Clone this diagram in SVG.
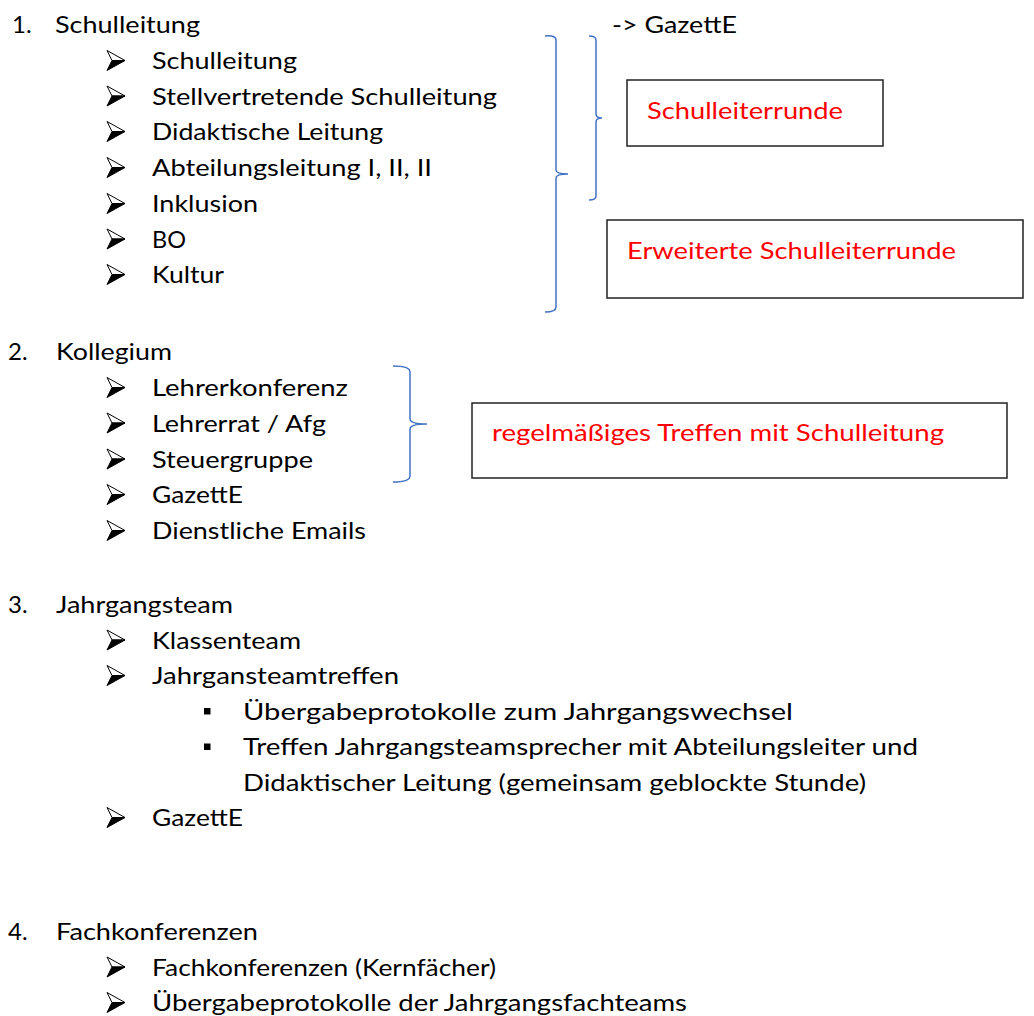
<svg xmlns="http://www.w3.org/2000/svg" width="1034" height="1016" viewBox="0 0 1034 1016">
<style>
  .t { font-family: Lato, "Open Sans", "Liberation Sans", sans-serif; font-size: 24px; fill: #000; }
  .r { font-family: Lato, "Open Sans", "Liberation Sans", sans-serif; font-size: 24px; fill: #FF0000; }
  .box { fill: #fff; stroke: #222; stroke-width: 1.5; }
  .brace { fill: none; stroke: #4472C4; stroke-width: 1.5; }
</style>
<defs>
  <g id="arr">
    <polygon points="0,-10 18,0 5,0" fill="#fff" stroke="#000" stroke-width="1"/>
    <polygon points="5,0 18,0 0,10" fill="#000" stroke="#000" stroke-width="1"/>
  </g>
  <rect id="sq" x="0" y="0" width="6.5" height="6.5" fill="#000"/>
</defs>
<rect width="1034" height="1016" fill="#fff"/>

<g id="section1">
  <text class="t" x="12" y="33">1.</text>
  <text class="t" x="55" y="33" textLength="145" lengthAdjust="spacingAndGlyphs">Schulleitung</text>
  <use href="#arr" x="107" y="60.5"/><text class="t" x="152" y="69" textLength="145" lengthAdjust="spacingAndGlyphs">Schulleitung</text>
  <use href="#arr" x="107" y="96"/><text class="t" x="152" y="104.5" textLength="345" lengthAdjust="spacingAndGlyphs">Stellvertretende Schulleitung</text>
  <use href="#arr" x="107" y="131.5"/><text class="t" x="152" y="140" textLength="231" lengthAdjust="spacingAndGlyphs">Didaktische Leitung</text>
  <use href="#arr" x="107" y="167.5"/><text class="t" x="152" y="176" textLength="280" lengthAdjust="spacingAndGlyphs">Abteilungsleitung I, II, II</text>
  <use href="#arr" x="107" y="203.5"/><text class="t" x="152" y="212" textLength="106" lengthAdjust="spacingAndGlyphs">Inklusion</text>
  <use href="#arr" x="107" y="239"/><text class="t" x="152" y="247.5" textLength="34" lengthAdjust="spacingAndGlyphs">BO</text>
  <use href="#arr" x="107" y="274.5"/><text class="t" x="152" y="283" textLength="72" lengthAdjust="spacingAndGlyphs">Kultur</text>
</g>

<g id="gazette-note">
  <text class="t" x="612" y="33" textLength="125" lengthAdjust="spacingAndGlyphs">-&gt; GazettE</text>
</g>

<g id="schulleiterrunde">
  <rect class="box" x="627" y="80" width="256" height="66"/>
  <text class="r" x="647" y="119" textLength="196" lengthAdjust="spacingAndGlyphs">Schulleiterrunde</text>
</g>

<g id="erweiterte-schulleiterrunde">
  <rect class="box" x="607" y="220" width="416" height="78"/>
  <text class="r" x="627" y="259" textLength="329" lengthAdjust="spacingAndGlyphs">Erweiterte Schulleiterrunde</text>
</g>

<g id="section2">
  <text class="t" x="8" y="360">2.</text>
  <text class="t" x="56" y="360" textLength="116" lengthAdjust="spacingAndGlyphs">Kollegium</text>
  <use href="#arr" x="107" y="387.5"/><text class="t" x="152" y="396" textLength="196" lengthAdjust="spacingAndGlyphs">Lehrerkonferenz</text>
  <use href="#arr" x="107" y="423"/><text class="t" x="152" y="431.5" textLength="174" lengthAdjust="spacingAndGlyphs">Lehrerrat / Afg</text>
  <use href="#arr" x="107" y="459"/><text class="t" x="152" y="467.5" textLength="161" lengthAdjust="spacingAndGlyphs">Steuergruppe</text>
  <use href="#arr" x="107" y="494.5"/><text class="t" x="152" y="503" textLength="91" lengthAdjust="spacingAndGlyphs">GazettE</text>
  <use href="#arr" x="107" y="530.5"/><text class="t" x="152" y="539" textLength="214" lengthAdjust="spacingAndGlyphs">Dienstliche Emails</text>
</g>

<g id="regelmaessiges-treffen">
  <rect class="box" x="472" y="403" width="535" height="75"/>
  <text class="r" x="492" y="441" textLength="452" lengthAdjust="spacingAndGlyphs">regelmäßiges Treffen mit Schulleitung</text>
</g>

<g id="section3">
  <text class="t" x="8" y="613">3.</text>
  <text class="t" x="56" y="613" textLength="177" lengthAdjust="spacingAndGlyphs">Jahrgangsteam</text>
  <use href="#arr" x="107" y="640"/><text class="t" x="152" y="648.5" textLength="149" lengthAdjust="spacingAndGlyphs">Klassenteam</text>
  <use href="#arr" x="107" y="675.5"/><text class="t" x="152" y="684" textLength="247" lengthAdjust="spacingAndGlyphs">Jahrgansteamtreffen</text>
  <use href="#sq" x="204" y="708"/><text class="t" x="243" y="719.5" textLength="550" lengthAdjust="spacingAndGlyphs">Übergabeprotokolle zum Jahrgangswechsel</text>
  <use href="#sq" x="204" y="743.5"/><text class="t" x="243" y="755" textLength="675" lengthAdjust="spacingAndGlyphs">Treffen Jahrgangsteamsprecher mit Abteilungsleiter und</text>
  <text class="t" x="243" y="790.5" textLength="623" lengthAdjust="spacingAndGlyphs">Didaktischer Leitung (gemeinsam geblockte Stunde)</text>
  <use href="#arr" x="107" y="817.5"/><text class="t" x="152" y="826" textLength="91" lengthAdjust="spacingAndGlyphs">GazettE</text>
</g>

<g id="section4">
  <text class="t" x="8" y="940">4.</text>
  <text class="t" x="56" y="940" textLength="202" lengthAdjust="spacingAndGlyphs">Fachkonferenzen</text>
  <use href="#arr" x="107" y="967"/><text class="t" x="152" y="975.5" textLength="344" lengthAdjust="spacingAndGlyphs">Fachkonferenzen (Kernfächer)</text>
  <use href="#arr" x="107" y="1002.5"/><text class="t" x="152" y="1011" textLength="535" lengthAdjust="spacingAndGlyphs">Übergabeprotokolle der Jahrgangsfachteams</text>
</g>

<g id="connectors">
  <path class="brace" d="M545,36 Q556,35 556,40 L556,170 Q556,174 568,174 Q556,174 556,178 L556,307 Q556,312 545,312"/>
  <path class="brace" d="M589,36 Q596,36 596,40 L596,114 Q596,118 602,118 Q596,118 596,122 L596,196 Q596,200 589,200"/>
  <path class="brace" d="M393,366 Q410,366 410,372 L410,419 Q410,424 427,424 Q410,424 410,429 L410,476 Q410,482 393,482"/>
</g>
</svg>
